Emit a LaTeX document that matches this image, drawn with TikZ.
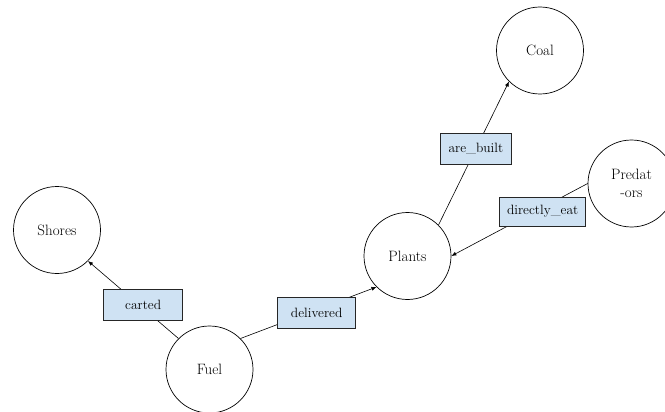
\documentclass[tikz,border=0pt]{standalone}
\usepackage{fontspec}
\usetikzlibrary{arrows.meta}
\definecolor{lblue}{RGB}{207,226,243}
\begin{document}
\begin{tikzpicture}[x=1pt,y=-1pt,
  thing/.style={circle,draw,line width=0.7pt,minimum size=87pt,inner sep=0pt,font=\fontsize{15}{18}\selectfont},
  rel/.style={draw=black!85,fill=lblue,line width=0.7pt,minimum height=31pt,inner sep=0pt,font=\fontsize{13.5}{16}\selectfont},
  link/.style={line width=0.6pt,-{Latex[length=5pt,width=4pt]}}]
  \useasboundingbox (0,0) rectangle (665,412);
  \node[thing] (coal) at (540,50.5) {Coal};
  \node[thing,align=center] (pred) at (631.5,183.5) {Predat\\-ors};
  \node[thing] (plants) at (407.5,256) {Plants};
  \node[thing] (shores) at (57,230) {Shores};
  \node[thing] (fuel) at (209.5,369.5) {Fuel};
  \draw[link] (fuel.135) -- node[rel,pos=0.39,yshift=3pt,minimum width=79pt] (carted) {carted} (shores.315);
  \draw[link] (fuel.45) -- node[rel,pos=0.56,yshift=-3pt,minimum width=78pt] (deliv) {delivered} (plants.225);
  \draw[link] (plants.45) -- node[rel,pos=0.53,minimum width=71pt] (built) {are\_built} (coal.225);
  \draw[link] (pred.west) -- node[rel,pos=0.33,yshift=-4pt,minimum width=86pt,minimum height=29pt] (eat) {directly\_eat} (plants.east);
\end{tikzpicture}
\end{document}
